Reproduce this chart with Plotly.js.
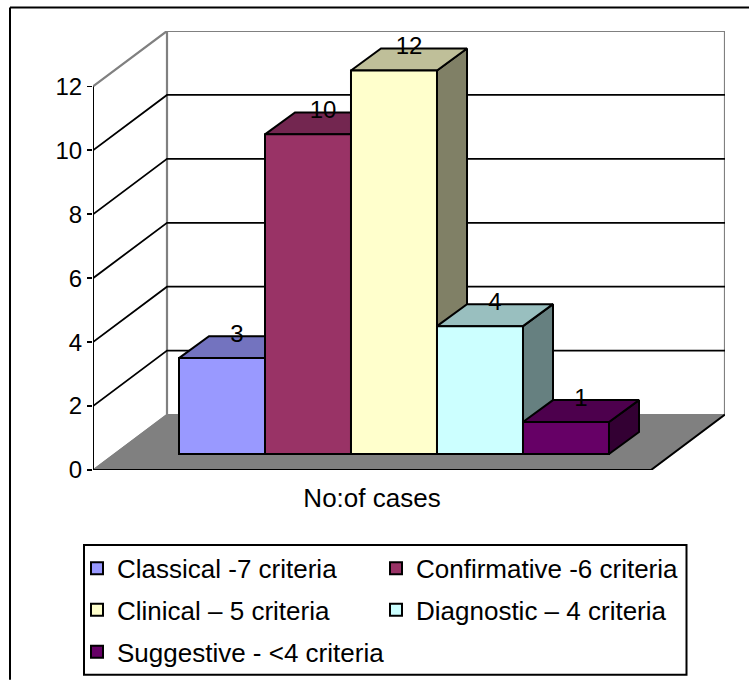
<!DOCTYPE html>
<html><head><meta charset="utf-8">
<script src="https://cdn.plot.ly/plotly-3.0.1.min.js"></script>
<style>html,body{margin:0;padding:0;background:#fff}</style>
</head><body><div id="chart" style="width:749px;height:680px"></div>
<script>
// Data
const categories = ['Classical -7 criteria','Confirmative -6 criteria','Clinical – 5 criteria','Diagnostic – 4 criteria','Suggestive - <4 criteria'];
const values = [3, 10, 12, 4, 1];
const frontColors = ['#9999FF','#993366','#FFFFCC','#CCFFFF','#660066'];
const topColors = ['#7373BF','#732650','#BFBF99','#99BFBF','#4D004D'];
const sideColors = ['#4D4D80','#4D1A33','#808066','#668080','#330033'];
const yTicks = [0,2,4,6,8,10,12];
const xLabel = 'No:of cases';

// Oblique projection parameters (axis units)
const W=749,H=680,ML=93,MR=24,MT=30.5,MB=210;
const xMin=-1.5,xMax=5.849,yMax=13.734;
const wallDx=0.8605,wallDy=1.734;   // floor/wall depth
const barDx=0.349,barDy=0.6875;     // bar depth
const barBase=0.5,hw=0.5;
const frontRight=xMin+558/86;       // right end of the front axis

const FAMILY='"Liberation Sans",Arial,sans-serif';
const FONT={family:FAMILY,size:26,color:'#000'};
const NUMFONT={family:FAMILY,size:24,color:'#000'};
const px2x=p=>(p-ML)/(W-ML-MR), px2y=p=>(H-MB-p)/(H-MT-MB);

const traces=[];
function poly(xs,ys,opt){
  traces.push(Object.assign({type:'scatter',mode:'lines',x:xs,y:ys,showlegend:false,hoverinfo:'skip',cliponaxis:false,zorder:0,
    line:{color:opt.color||'#000',width:opt.width||2}},opt.fill?{fill:'toself',fillcolor:opt.fill}:{},opt.z!==undefined?{zorder:opt.z}:{}));
}
// floor
poly([xMin,xMin+wallDx,xMax,frontRight,xMin],[0,wallDy,wallDy,0,0],{fill:'#808080',color:'#808080',width:1.2});
// walls (back + side), grid
poly([xMin+wallDx,xMin+wallDx],[wallDy,12+wallDy],{color:'#808080',width:2.2});
poly([xMax,xMax],[wallDy,12+wallDy],{color:'#808080',width:2.2});
poly([xMin,xMin+wallDx],[0,wallDy],{color:'#808080',width:1.4});
yTicks.filter(v=>v>0&&v<12).forEach(v=>poly([xMin,xMin+wallDx,xMax],[v,v+wallDy,v+wallDy],{color:'#000',width:1.8}));
poly([xMin,xMin+wallDx,xMax],[12,12+wallDy,12+wallDy],{color:'#808080',width:2.2});
// front axes
poly([frontRight,xMax],[0,wallDy],{color:'#000',width:2});
poly([xMin,xMin],[0,12],{color:'#000',width:2,z:0});
poly([xMin,frontRight],[0,0],{color:'#000',width:2});
[xMin,frontRight].forEach(x=>poly([x,x],[0,-0.14],{color:'#000',width:1.8}));

// bar depth faces
values.forEach((v,i)=>{
  const t=v+barBase,l=i-hw,r=i+hw;
  poly([r,r+barDx,r+barDx,r,r],[barBase,barBase+barDy,t+barDy,t,barBase],{fill:sideColors[i],z:1});
  poly([l,l+barDx,r+barDx,r,l],[t,t+barDy,t+barDy,t,t],{fill:topColors[i],z:1});
});
// bar fronts
const legendIds=['legend','legend2','legend3','legend4','legend5'];
categories.forEach((c,i)=>traces.push({type:'bar',name:c,x:[i],y:[values[i]],base:barBase,width:1,zorder:2,
  marker:{color:frontColors[i],line:{color:'#000',width:2}},legend:legendIds[i],hoverinfo:'name+y'}));
// value labels
traces.push({type:'scatter',mode:'text',x:values.map((v,i)=>i+barDx/2),y:values.map(v=>v+barBase+barDy),
  text:values.map(String),textposition:'middle center',textfont:NUMFONT,showlegend:false,hoverinfo:'skip',cliponaxis:false,zorder:3});

function legendAt(px,py){return {x:px2x(px),y:px2y(py),xanchor:'left',yanchor:'middle',bgcolor:'rgba(0,0,0,0)',borderwidth:0,font:FONT};}
const layout={
  width:W,height:H,autosize:false,showlegend:true,barmode:'overlay',
  paper_bgcolor:'#fff',plot_bgcolor:'rgba(0,0,0,0)',font:FONT,
  margin:{l:ML,r:MR,t:MT,b:MB,pad:0,autoexpand:false},
  xaxis:{range:[xMin,xMax],tickmode:'array',tickvals:[(xMin+frontRight)/2],ticktext:[xLabel],ticks:'',ticklabelstandoff:10,showgrid:false,zeroline:false,showline:false,tickfont:FONT,fixedrange:true},
  yaxis:{range:[0,yMax],tickmode:'array',tickvals:yTicks,ticktext:yTicks.map(String),ticks:'outside',ticklen:5,tickwidth:1.8,tickcolor:'#000',showgrid:false,zeroline:false,showline:false,tickfont:NUMFONT,fixedrange:true},
  legend:legendAt(77,568.5),legend2:legendAt(376,568.5),legend3:legendAt(77,610),legend4:legendAt(376,610),legend5:legendAt(77,652),
  shapes:[
    {type:'line',xref:'paper',yref:'paper',x0:px2x(10),x1:px2x(10),y0:px2y(7),y1:px2y(680),line:{color:'#000',width:2}},
    {type:'line',xref:'paper',yref:'paper',x0:px2x(10),x1:px2x(749),y0:px2y(7),y1:px2y(7),line:{color:'#000',width:2}},
    {type:'rect',xref:'paper',yref:'paper',x0:px2x(84),x1:px2x(686.5),y0:px2y(545),y1:px2y(675),line:{color:'#000',width:2},fillcolor:'#fff',layer:'below'}
  ]
};
Plotly.newPlot('chart',traces,layout,{displayModeBar:false,staticPlot:true});
</script></body></html>
